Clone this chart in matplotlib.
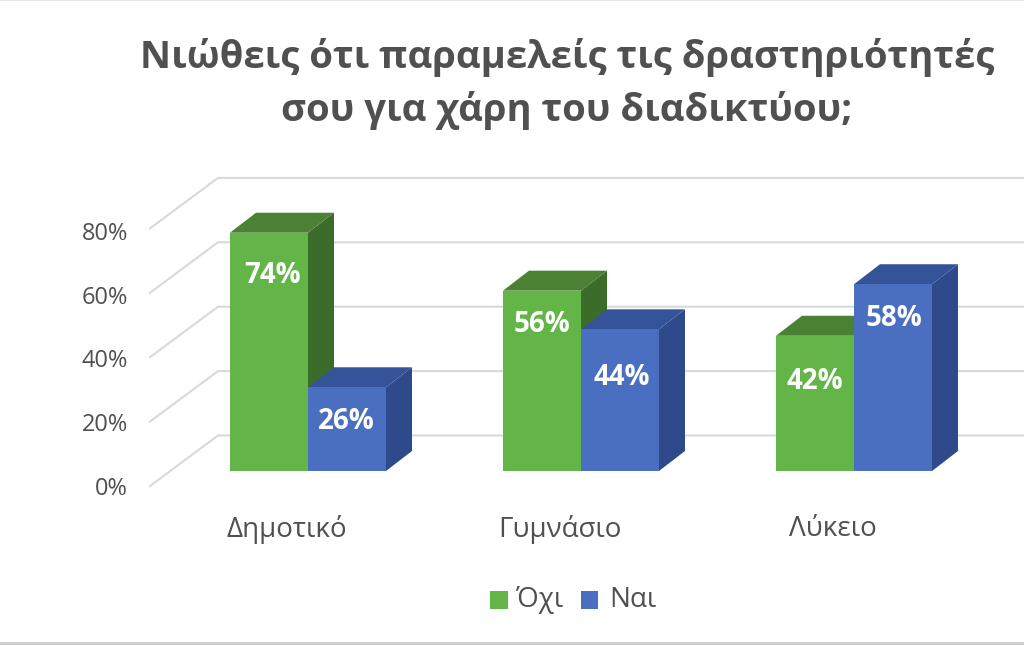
import matplotlib
matplotlib.use('Agg')
import matplotlib.pyplot as plt
from matplotlib.patches import Polygon, Rectangle

plt.rcParams['font.family'] = ['Open Sans', 'DejaVu Sans']

# Dados
categorias = ['Δημοτικό', 'Γυμνάσιο', 'Λύκειο']
oxi = [74, 56, 42]
nai = [26, 44, 58]
ticks = [0, 20, 40, 60, 80]
titulo = 'Νιώθεις ότι παραμελείς τις δραστηριότητές\nσου για χάρη του διαδικτύου;'

# Distancia do rotulo ao topo da barra (px) e ajuste em x (px)
desce_oxi = [43, 34, 46]
desce_nai = [34, 48, 34]
ajuste_oxi = [4, 0, 0]
ajuste_nai = [-1, 2, 1]

# Cores
verde, verde_topo, verde_lado = '#62b546', '#4a8132', '#3c6c29'
azul, azul_topo, azul_lado = '#4a6fc0', '#345398', '#2e4a8a'
cinza = '#d9d9d9'
texto = '#505050'

# Escala: 1 categoria = 273 px, 1% = 3.22 px
W, H = 1024, 645
px_x = 273.0
px_y = 3.22
x0, y0 = 308.0, 471.0

fig = plt.figure(figsize=(W / 100, H / 100), dpi=100)
ax = fig.add_axes([0, 0, 1, 1])
ax.set_xlim(-x0 / px_x, (W - x0) / px_x)
ax.set_ylim(-(H - y0) / px_y, y0 / px_y)
ax.axis('off')

largura = 78 / px_x
dx = 26 / px_x
dy = 20 / px_y

# Grade (parede do fundo e parede lateral)
parede_x = (218 - x0) / px_x
frente_x = (150 - x0) / px_x
fundo_y = (y0 - 435.5) / px_y
frente_y = (y0 - 486) / px_y
fim_x = (1024 - x0) / px_x
for t in ticks:
    ax.plot([frente_x, parede_x, fim_x], [frente_y + t, fundo_y + t, fundo_y + t],
            color=cinza, lw=1.5, solid_joinstyle='miter', zorder=1)
    ax.text((128 - x0) / px_x, (y0 - 489) / px_y + t * 0.99, str(t) + '%', ha='right', va='center',
            fontsize=17, color=texto)


def barra(x, v, cor, cor_topo, cor_lado, z, desce, ajuste):
    ax.add_patch(Polygon([(x + largura, 0), (x + largura + dx, dy), (x + largura + dx, v + dy), (x + largura, v)],
                         facecolor=cor_lado, edgecolor='none', zorder=z))
    ax.add_patch(Polygon([(x, v), (x + dx, v + dy), (x + largura + dx, v + dy), (x + largura, v)],
                         facecolor=cor_topo, edgecolor='none', zorder=z))
    ax.add_patch(Rectangle((x, 0), largura, v, facecolor=cor, edgecolor='none', zorder=z + 1))
    ax.text(x + largura / 2 + ajuste / px_x, v - desce / px_y, str(v) + '%', ha='center', va='center',
            fontsize=20, fontweight='bold', color='white', zorder=z + 2)


for i in range(len(categorias)):
    barra(i - largura, oxi[i], verde, verde_topo, verde_lado, 3, desce_oxi[i], ajuste_oxi[i])
    barra(i, nai[i], azul, azul_topo, azul_lado, 5, desce_nai[i], ajuste_nai[i])
    ax.text(i - 0.078, (y0 - 529) / px_y, categorias[i], ha='center', va='center',
            fontsize=20, color=texto)

# Titulo
ax.text((567 - x0) / px_x, (y0 - 84) / px_y, titulo, ha='center', va='center', fontsize=27.5,
        fontweight='bold', color=texto, linespacing=1.46)

# Legenda
leg_y = (y0 - 600) / px_y
for nome, cor, x_q, larg_q, x_t in [('Όχι', verde, 490, 18, 516), ('Ναι', azul, 581, 17, 609)]:
    ax.add_patch(Rectangle(((x_q - x0) / px_x, leg_y - 9 / px_y), larg_q / px_x, 18 / px_y,
                           facecolor=cor, edgecolor='none'))
    ax.text((x_t - x0) / px_x, leg_y, nome, ha='left', va='center', fontsize=20, color=texto)

# Bordas da imagem
ax.add_patch(Rectangle((ax.get_xlim()[0], ax.get_ylim()[0]), W / px_x, 3 / px_y,
                       facecolor='#cfcfcf', edgecolor='none'))
ax.add_patch(Rectangle((ax.get_xlim()[0], ax.get_ylim()[1] - 1 / px_y), W / px_x, 1 / px_y,
                       facecolor='#e8e8e8', edgecolor='none'))

fig.savefig('out.png', dpi=100)
